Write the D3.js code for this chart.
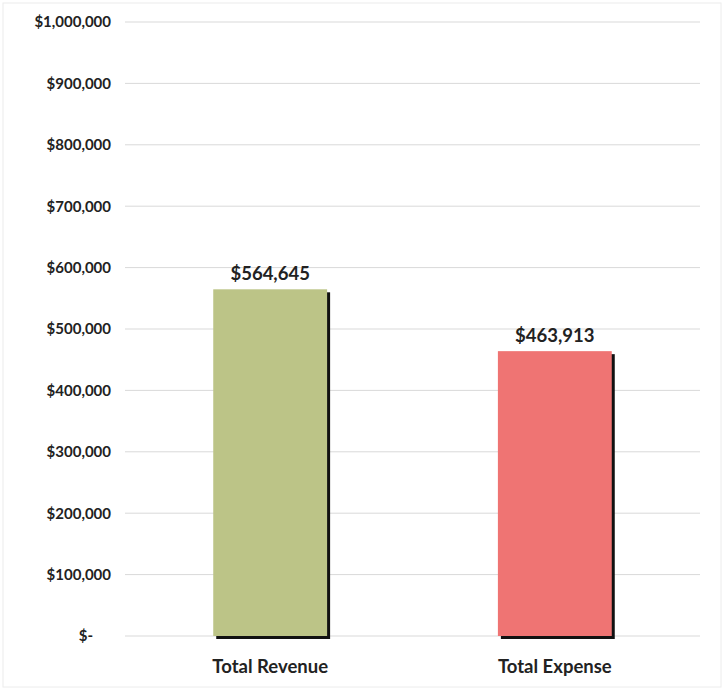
<!DOCTYPE html>
<html>
<head>
<meta charset="utf-8">
<script src="https://cdn.jsdelivr.net/npm/d3@7"></script>
<style>
  body { margin: 0; background: #fff; }
  text { font-family: Lato, "Open Sans", sans-serif; font-weight: bold; fill: #222; }
</style>
</head>
<body>
<div id="chart"></div>
<script>
const categories = ["Total Revenue", "Total Expense"];
const values = [564645, 463913];
const colors = ["#bcc487", "#ef7473"];
const yTicks = [0, 100000, 200000, 300000, 400000, 500000, 600000, 700000, 800000, 900000, 1000000];

const W = 724, H = 694;
const margin = {top: 22, right: 24, bottom: 58, left: 125};
const width = W - margin.left - margin.right;
const height = H - margin.top - margin.bottom;

const svg = d3.select("#chart").append("svg")
    .attr("width", W)
    .attr("height", H);

// faint scan border
svg.append("rect")
    .attr("x", 3).attr("y", 3).attr("width", W - 6).attr("height", H - 10)
    .attr("fill", "none").attr("stroke", "#ececec");

const g = svg.append("g")
    .attr("transform", `translate(${margin.left},${margin.top})`);

const x = d3.scaleBand()
    .domain(categories)
    .range([0, width])
    .paddingInner(0.6)
    .paddingOuter(0.31);

const y = d3.scaleLinear()
    .domain([0, 1000000])
    .range([height, 0]);

const fmt = d3.format("$,");

// gridlines
g.append("g")
    .selectAll("line")
    .data(yTicks)
    .join("line")
    .attr("x1", 0).attr("x2", width)
    .attr("y1", d => y(d)).attr("y2", d => y(d))
    .attr("stroke", "#d9d9d9")
    .attr("stroke-width", 1);

// y axis
const yAxis = g.append("g")
    .call(d3.axisLeft(y)
        .tickValues(yTicks)
        .tickSize(0)
        .tickPadding(14)
        .tickFormat(d => d === 0 ? "$-" : fmt(d)));
yAxis.select(".domain").remove();
yAxis.selectAll("text")
    .attr("font-size", 15)
    .style("font-family", "Lato, 'Open Sans', sans-serif")
    .style("font-weight", "bold")
    .attr("fill", "#222");
yAxis.selectAll(".tick")
    .filter(d => d === 0)
    .select("text")
    .attr("dx", -18);

// bar shadows
g.selectAll(".shadow")
    .data(values)
    .join("rect")
    .attr("class", "shadow")
    .attr("x", (d, i) => x(categories[i]) + 3)
    .attr("y", d => y(d) + 3)
    .attr("width", x.bandwidth())
    .attr("height", d => height - y(d))
    .attr("fill", "#111");

// bars
g.selectAll(".bar")
    .data(values)
    .join("rect")
    .attr("class", "bar")
    .attr("x", (d, i) => x(categories[i]))
    .attr("y", d => y(d))
    .attr("width", x.bandwidth())
    .attr("height", d => height - y(d))
    .attr("fill", (d, i) => colors[i]);

// value labels
g.selectAll(".val")
    .data(values)
    .join("text")
    .attr("class", "val")
    .attr("x", (d, i) => x(categories[i]) + x.bandwidth() / 2)
    .attr("y", d => y(d) - 9)
    .attr("text-anchor", "middle")
    .attr("font-size", 18.5)
    .text(d => fmt(d));

// x axis labels
const xAxis = g.append("g")
    .attr("transform", `translate(0,${height})`)
    .call(d3.axisBottom(x).tickSize(0).tickPadding(24));
xAxis.select(".domain").remove();
xAxis.selectAll("text")
    .attr("font-size", 18.5)
    .style("font-family", "Lato, 'Open Sans', sans-serif")
    .style("font-weight", "bold")
    .attr("fill", "#222");
</script>
</body>
</html>
